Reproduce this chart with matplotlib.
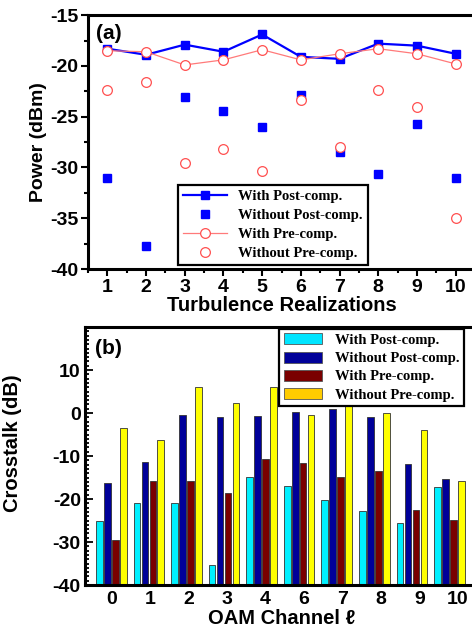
import numpy as np
import matplotlib.pyplot as plt
from matplotlib.patches import Patch
from matplotlib.ticker import MultipleLocator

plt.rcParams['font.family'] = ['Liberation Sans', 'DejaVu Sans']
plt.rcParams['font.weight'] = 'bold'
plt.rcParams['axes.unicode_minus'] = False

# ---- panel (a) data ----
realizations = np.arange(1, 11)
with_post = [-18.3, -18.9, -17.9, -18.6, -16.9, -19.1, -19.3, -17.8, -18.0, -18.8]
without_post = [-31.0, -37.7, -23.1, -24.4, -26.0, -22.9, -28.5, -30.6, -25.7, -31.0]
with_pre = [-18.5, -18.6, -19.9, -19.4, -18.4, -19.4, -18.8, -18.3, -18.8, -19.8]
without_pre = [-22.4, -21.6, -29.6, -28.2, -30.3, -23.4, -28.0, -22.4, -24.0, -35.0]

# ---- panel (b) data ----
channels = ['0', '1', '2', '3', '4', '6', '7', '8', '9', '10']
xt_with_post = [-25.2, -20.9, -20.9, -35.3, -14.8, -16.9, -20.2, -22.7, -25.5, -17.3]
xt_without_post = [-16.2, -11.3, -0.4, -0.9, -0.6, 0.3, 0.9, -0.9, -11.8, -15.3]
xt_with_pre = [-29.5, -15.7, -15.7, -18.5, -10.6, -11.6, -14.8, -13.4, -22.5, -24.8]
xt_without_pre = [-3.6, -6.2, 6.1, 2.4, 6.1, -0.4, 3.3, 0.0, -3.9, -15.7]

fig = plt.figure(figsize=(4.72, 6.33), dpi=100)

# ================= (a) =================
ax1 = fig.add_axes([0.1864, 0.575, 0.82, 0.401])
ax1.plot(realizations, with_post, color='#0000ff', lw=1.6, marker='s', ms=6,
         label='With Post-comp.')
ax1.plot(realizations, without_post, ls='none', color='#0000ff', marker='s', ms=6,
         label='Without Post-comp.')
ax1.plot(realizations, with_pre, color='#ff7a7a', lw=0.9, marker='o', ms=7,
         mfc='white', mec='#ff5050', mew=0.9, label='With Pre-comp.')
ax1.plot(realizations, without_pre, ls='none', marker='o', ms=7,
         mfc='white', mec='#ff5050', mew=0.9, label='Without Pre-comp.')
ax1.set_xlim(0.5, 10.5)
ax1.set_ylim(-40, -15)
ax1.set_xticks(realizations)
ax1.xaxis.set_minor_locator(MultipleLocator(0.5))
ax1.yaxis.set_major_locator(MultipleLocator(5))
ax1.yaxis.set_minor_locator(MultipleLocator(2.5))
ax1.tick_params(which='both', direction='out', width=1.5, labelsize=14, pad=2)
ax1.tick_params(which='major', length=5)
ax1.tick_params(which='minor', length=3)
for s in ax1.spines.values():
    s.set_linewidth(2.2)
ax1.set_xlabel('Turbulence Realizations', fontsize=14.5, fontweight='bold', labelpad=0)
ax1.set_ylabel('Power (dBm)', fontsize=14, fontweight='bold', labelpad=2)
ax1.text(0.02, 0.965, '(a)', transform=ax1.transAxes, fontsize=15,
         fontweight='bold', va='top', ha='left')
leg1 = ax1.legend(loc='lower left', bbox_to_anchor=(0.232, 0.014),
                  prop={'family': 'Liberation Serif', 'weight': 'bold', 'size': 10.5},
                  frameon=True, fancybox=False, edgecolor='black', framealpha=1,
                  handlelength=3.0, borderpad=0.35, labelspacing=0.4,
                  handletextpad=0.8, borderaxespad=0)
leg1.get_frame().set_linewidth(1.6)

# ================= (b) =================
ax2 = fig.add_axes([0.180, 0.0758, 0.832, 0.4076])
x = np.arange(len(channels))
step = 0.212
width = 0.177
series = [
    (xt_with_post, '#00f0ff'),
    (xt_without_post, '#000099'),
    (xt_with_pre, '#7a0000'),
    (xt_without_pre, '#ffff00'),
]
base = -40
for k, (vals, col) in enumerate(series):
    heights = np.array(vals) - base
    ax2.bar(x + (k - 1.5) * step, heights, width=width, bottom=base,
            color=col, edgecolor='#333333', linewidth=0.6)
ax2.set_xlim(-0.70, 9.75)
ax2.set_ylim(-40, 20)
ax2.set_xticks(x * 1.025)
ax2.set_xticklabels(channels)
ax2.set_yticks([-40, -30, -20, -10, 0, 10])
ax2.yaxis.set_minor_locator(MultipleLocator(1))
ax2.tick_params(axis='x', length=0, labelsize=14, pad=4)
ax2.tick_params(axis='y', which='both', direction='in', width=1.3, labelsize=14, pad=3)
ax2.tick_params(axis='y', which='major', length=6)
ax2.tick_params(axis='y', which='minor', length=3)
for s in ax2.spines.values():
    s.set_linewidth(2.2)
ax2.set_xlabel('OAM Channel \u2113', fontsize=14.5, fontweight='bold', labelpad=1)
ax2.set_ylabel('Crosstalk (dB)', fontsize=14.5, fontweight='bold', labelpad=4)
ax2.yaxis.set_label_coords(-0.16, 0.55)
ax2.text(0.025, 0.955, '(b)', transform=ax2.transAxes, fontsize=15,
         fontweight='bold', va='top', ha='left')
handles = [
    Patch(facecolor='#00e5ff', edgecolor='#555555', lw=0.6, label='With Post-comp.'),
    Patch(facecolor='#000099', edgecolor='#555555', lw=0.6, label='Without Post-comp.'),
    Patch(facecolor='#7a0000', edgecolor='#555555', lw=0.6, label='With Pre-comp.'),
    Patch(facecolor='#ffcc00', edgecolor='#555555', lw=0.6, label='Without Pre-comp.'),
]
leg2 = ax2.legend(handles=handles, loc='upper left', bbox_to_anchor=(0.495, 0.993),
                  prop={'family': 'Liberation Serif', 'weight': 'bold', 'size': 10.5},
                  frameon=True, fancybox=False, edgecolor='black', framealpha=1,
                  handlelength=2.6, handleheight=0.8, borderpad=0.3,
                  labelspacing=0.32, handletextpad=0.9, borderaxespad=0)
leg2.get_frame().set_linewidth(1.6)

fig.savefig('out.png', dpi=100)
